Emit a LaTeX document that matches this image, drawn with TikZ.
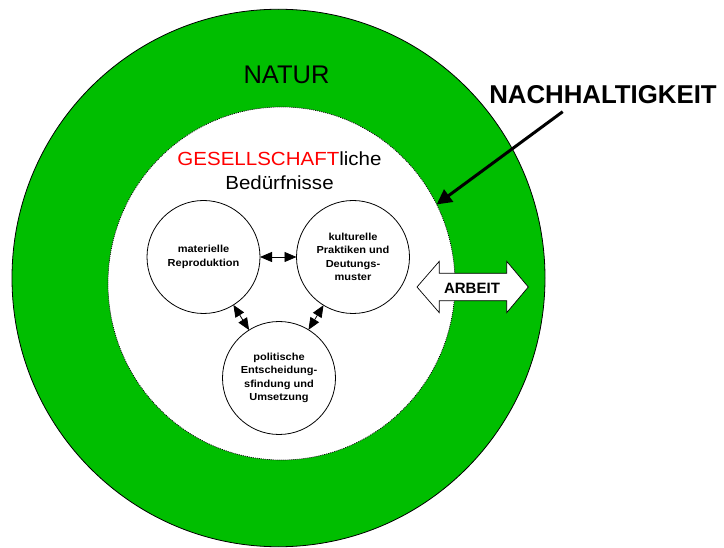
\documentclass[tikz,border=0pt]{standalone}
\usepackage{fontspec}
\setmainfont{Liberation Sans}
\newfontfamily\widesans[FakeStretch=1.08]{Liberation Sans}
\usetikzlibrary{arrows.meta,shapes.geometric}
\definecolor{naturgreen}{RGB}{0,190,0}
\definecolor{gesred}{RGB}{255,0,0}
\begin{document}
\begin{tikzpicture}[x=1pt,y=-1pt,
  ring/.style={ellipse, draw=black, line width=0.8pt, fill=naturgreen, inner sep=0pt, outer sep=0pt, minimum width=533pt, minimum height=537.5pt},
  society/.style={ellipse, draw=black, dash pattern=on 1pt off 1pt, line width=0.7pt, fill=white, inner sep=0pt, outer sep=0pt, minimum width=347pt, minimum height=353pt},
  sphere/.style={circle, draw=black, line width=0.8pt, fill=white, minimum size=113pt, inner sep=0pt, outer sep=0pt, align=center, font={\widesans\bfseries\fontsize{10.2}{13.3}\selectfont}},
  link/.style={{Triangle[length=12pt,width=10pt]}-{Triangle[length=12pt,width=10pt]}, line width=0.8pt},
  bigarrow/.style={-{Triangle[length=15pt,width=15pt]}, line width=3pt},
  label/.style={anchor=base, inner sep=0pt}
]
\useasboundingbox (0,0) rectangle (724,548);
\fill[white] (0,0) rectangle (724,548);

\node[ring] (natring) at (278.5,278) {};
\node[society] (ges) at (281.5,283.5) {};

\node[label, font={\fontsize{25.5}{30}\selectfont}] (natur) at (286.5,83.3) {NATUR};
\node[label, font={\bfseries\fontsize{25.8}{30}\selectfont}] (nach) at (603,103.3) {NACHHALTIGKEIT};
\node[label, font={\widesans\fontsize{19}{23}\selectfont}] (gestext) at (279.5,166) {\textcolor{gesred}{GESELLSCHAFT}liche};
\node[label, font={\widesans\fontsize{19}{23}\selectfont}] (bed) at (279.5,190) {Bedürfnisse};

\node[sphere] (mat) at (203.5,257) {materielle\\Reproduktion};
\node[sphere] (kul) at (353,257) {kulturelle\\Praktiken und\\Deutungs-\\muster};
\node[sphere] (pol) at (279,378) {politische\\Entscheidung-\\sfindung und\\Umsetzung};

\draw[link] (mat) -- (kul);
\draw[link] (mat) -- (pol);
\draw[link] (kul) -- (pol);

\draw[fill=white, line width=0.7pt, line join=miter]
  (417,287) -- (439.3,261.3) -- (439.3,273.3) -- (506.7,273.3) -- (506.7,261.3)
  -- (528.3,287) -- (506.7,312.7) -- (506.7,300.7) -- (439.3,300.7) -- (439.3,312.7) -- cycle;
\node[label, font={\bfseries\fontsize{15}{18}\selectfont}] (arbeit) at (472,294) {ARBEIT};

\coordinate (nachtail) at (562.7,111.7);
\draw[bigarrow] (nachtail) -- (ges.27);
\end{tikzpicture}
\end{document}
